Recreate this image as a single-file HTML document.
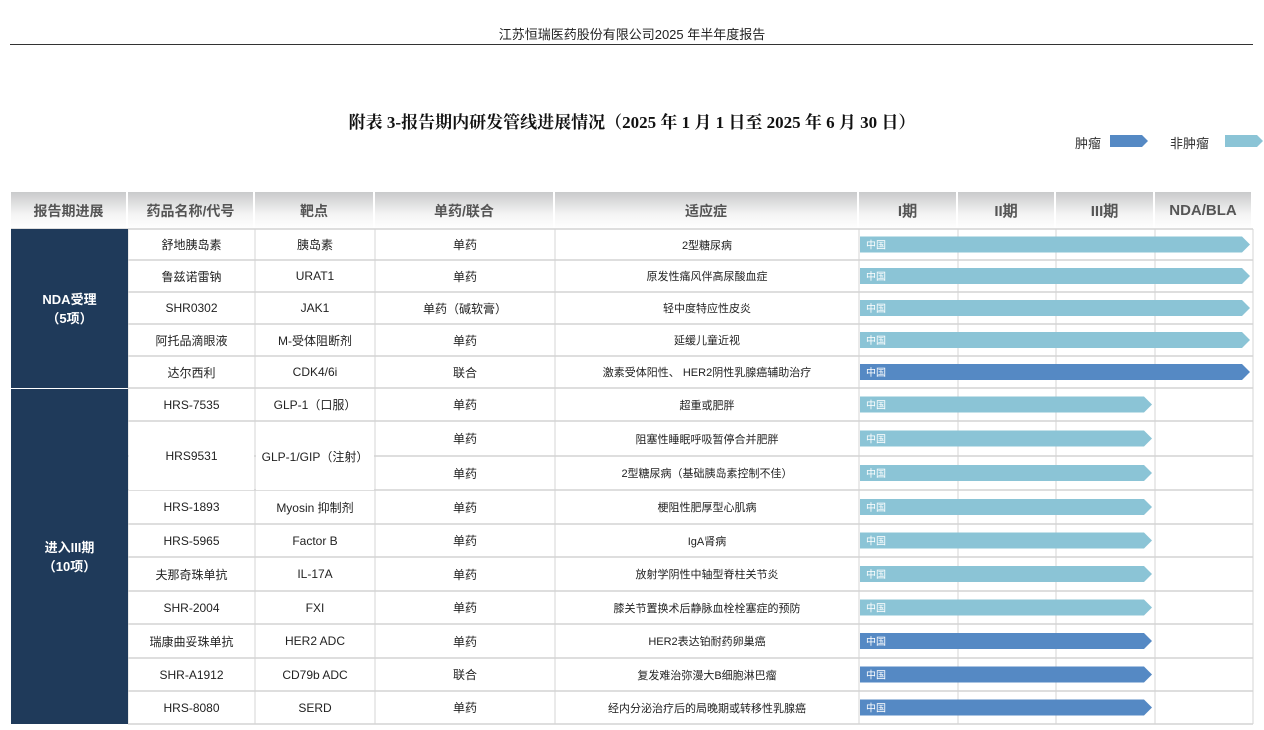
<!DOCTYPE html>
<html><head><meta charset="utf-8">
<style>
body{margin:0;width:1264px;height:730px;background:#fff;position:relative;overflow:hidden;font-family:"Liberation Sans","Noto Sans CJK SC",sans-serif;}
.a{position:absolute;}
.cell{position:absolute;display:flex;align-items:center;justify-content:center;font-size:12px;color:#222;text-align:center;box-sizing:border-box;}
.hd{position:absolute;display:flex;align-items:center;justify-content:center;font-size:14px;font-weight:bold;color:#555;background:linear-gradient(#c9cacb,#f4f4f4 60%,#fff);border-right:2px solid #fff;box-sizing:border-box;}
</style></head><body>
<div class="a" style="left:0;width:1264px;top:24px;text-align:center;font-size:13px;color:#222;">江苏恒瑞医药股份有限公司2025 年半年度报告</div>
<div class="a" style="left:10px;width:1243px;top:44px;height:1px;background:#333;"></div>
<div class="a" style="left:0;width:1264px;top:108px;text-align:center;font-size:17px;font-weight:bold;font-family:'Liberation Serif','Noto Serif CJK SC',serif;color:#111;">附表 3-报告期内研发管线进展情况（2025 年 1 月 1 日至 2025 年 6 月 30 日）</div>
<div class="a" style="left:1075px;top:133px;font-size:13px;color:#333;">肿瘤</div>
<svg class="a" style="left:1110px;top:134px" width="42" height="14"><polygon points="0,1 32,1 38,7 32,13 0,13" fill="#5589c4"/></svg>
<div class="a" style="left:1170px;top:133px;font-size:13px;color:#333;">非肿瘤</div>
<svg class="a" style="left:1225px;top:134px" width="40" height="14"><polygon points="0,1 32,1 38,7 32,13 0,13" fill="#8bc4d6"/></svg>
<div id="tbl"></div>
<script>
const phaseLabels=["I期","II期","III期","NDA/BLA"];
const groups=["NDA受理\n（5项）","进入III期\n（10项）"];
const groupRows=[5,15];
const names=["舒地胰岛素","鲁兹诺雷钠","SHR0302","阿托品滴眼液","达尔西利","HRS-7535","HRS9531","","HRS-1893","HRS-5965","夫那奇珠单抗","SHR-2004","瑞康曲妥珠单抗","SHR-A1912","HRS-8080"];
const targets=["胰岛素","URAT1","JAK1","M-受体阻断剂","CDK4/6i","GLP-1（口服）","GLP-1/GIP（注射）","","Myosin 抑制剂","Factor B","IL-17A","FXI","HER2 ADC","CD79b ADC","SERD"];
const modes=["单药","单药","单药（碱软膏）","单药","联合","单药","单药","单药","单药","单药","单药","单药","单药","联合","单药"];
const indications=["2型糖尿病","原发性痛风伴高尿酸血症","轻中度特应性皮炎","延缓儿童近视","激素受体阳性、 HER2阴性乳腺癌辅助治疗","超重或肥胖","阻塞性睡眠呼吸暂停合并肥胖","2型糖尿病（基础胰岛素控制不佳）","梗阻性肥厚型心肌病","IgA肾病","放射学阴性中轴型脊柱关节炎","膝关节置换术后静脉血栓栓塞症的预防","HER2表达铂耐药卵巢癌","复发难治弥漫大B细胞淋巴瘤","经内分泌治疗后的局晚期或转移性乳腺癌"];
const stageReached=[4,4,4,4,4,3,3,3,3,3,3,3,3,3,3];
const isTumor=[0,0,0,0,1,0,0,0,0,0,0,0,1,1,1];
const rowEdges=[229,260,292,324,356,388,421,456,490,524,557,591,624,658,691,724];
const colX=[11,128,255,375,555,859,958,1056,1155,1253];
const T=document.getElementById('tbl');
function add(html){T.insertAdjacentHTML('beforeend',html);}
const hdrs=["报告期进展","药品名称/代号","靶点","单药/联合","适应症"].concat(phaseLabels);
hdrs.forEach((h,i)=>{add(`<div class="hd" style="left:${colX[i]}px;top:192px;width:${colX[i+1]-colX[i]}px;height:37px;${i>=5?'font-family:Liberation Sans,sans-serif;font-size:15px;':''}">${h}</div>`);});
let svg=`<svg class="a" style="left:0;top:0" width="1264" height="730">`;
for(let i=1;i<rowEdges.length;i++){svg+=`<line x1="128" x2="1253" y1="${rowEdges[i]}" y2="${rowEdges[i]}" stroke="#d4d4d4" stroke-width="1.5"/>`;}
svg+=`<line x1="11" x2="1253" y1="229" y2="229" stroke="#d4d4d4" stroke-width="1.5"/>`;
for(let c=1;c<colX.length;c++){svg+=`<line x1="${colX[c]}" x2="${colX[c]}" y1="229" y2="724" stroke="#d4d4d4" stroke-width="1"/>`;}
svg+=`</svg>`;add(svg);
let start=0;
groups.forEach((g,k)=>{const end=groupRows[k];const y0=rowEdges[start],y1=rowEdges[end];
add(`<div class="cell" style="left:11px;top:${y0+(k?1:0)}px;width:117px;height:${y1-y0-(k?1:0)}px;background:#1f3a5a;color:#fff;font-weight:bold;font-size:13px;white-space:pre;line-height:19px;">${g}</div>`);start=end;});
for(let r=0;r<names.length;r++){
 const y0=rowEdges[r],h=rowEdges[r+1]-y0;
 if(r===6){const hm=rowEdges[8]-y0-1;
  add(`<div class="cell" style="left:129px;top:${y0+1}px;width:125px;height:${hm}px;background:#fff;">${names[r]}</div>`);
  add(`<div class="cell" style="left:256px;top:${y0+1}px;width:118px;height:${hm}px;background:#fff;">${targets[r]}</div>`);}
 else if(names[r]){add(`<div class="cell" style="left:128px;top:${y0}px;width:127px;height:${h}px;">${names[r]}</div>`);
  add(`<div class="cell" style="left:255px;top:${y0}px;width:120px;height:${h}px;">${targets[r]}</div>`);}
 add(`<div class="cell" style="left:375px;top:${y0}px;width:180px;height:${h}px;">${modes[r]}</div>`);
 add(`<div class="cell" style="left:555px;top:${y0}px;width:304px;height:${h}px;font-size:11px;">${indications[r]}</div>`);
}
function xScale(stage){return colX[5+stage];}
const B=document.createElementNS('http://www.w3.org/2000/svg','svg');
B.setAttribute('width','1264');B.setAttribute('height','730');B.setAttribute('class','a');B.style.left='0';B.style.top='0';


for(let r=0;r<stageReached.length;r++){
 const x0=xScale(0)+1,x1=xScale(stageReached[r])-3;
 const cy=(rowEdges[r]+rowEdges[r+1])/2,hh=8;
 const p=document.createElementNS('http://www.w3.org/2000/svg','polygon');
 p.setAttribute('points',`${x0},${cy-hh} ${x1-8},${cy-hh} ${x1},${cy} ${x1-8},${cy+hh} ${x0},${cy+hh}`);
 p.setAttribute('fill',isTumor[r]?'#5589c4':'#8bc4d6');
 
 
 B.appendChild(p);
 const t=document.createElementNS('http://www.w3.org/2000/svg','text');
 t.setAttribute('x',x0+6);t.setAttribute('y',cy+4);t.setAttribute('fill','#fff');t.setAttribute('font-size','10');
 t.setAttribute('font-family','Noto Sans CJK SC,sans-serif');t.textContent='中国';
 
 
 B.appendChild(t);
}
T.appendChild(B);
</script>
</body></html>
